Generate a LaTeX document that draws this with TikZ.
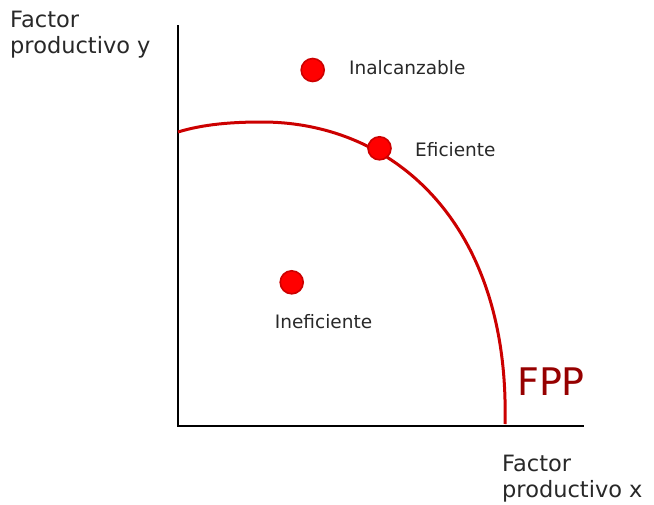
\documentclass[tikz,border=0pt]{standalone}
\usepackage{fontspec}
\setmainfont{DejaVu Sans}
\usepackage{xcolor}
\usepackage{tikz}
\usetikzlibrary{positioning}

\definecolor{fppred}{RGB}{204,0,0}
\definecolor{fppdark}{RGB}{150,0,0}
\definecolor{dotred}{RGB}{255,0,0}
\definecolor{txtgray}{RGB}{40,40,40}

\begin{document}
\begin{tikzpicture}[
  x=1pt, y=-1pt,
  axis/.style={line width=2pt, black},
  frontier/.style={line width=3pt, fppred},
  dot/.style={circle, fill=dotred, draw=fppred, line width=1.6pt, minimum size=23pt, inner sep=0pt},
  lbl/.style={inner sep=0pt, text=txtgray, font=\fontsize{18.5}{22}\selectfont},
  axislbl/.style={inner sep=0pt, text=txtgray, align=left, font=\fontsize{22.5}{26}\selectfont}
]
  \useasboundingbox (0,0) rectangle (654,504);

  % axes
  \coordinate (origin) at (178,426);
  \coordinate (ytop) at (178,25);
  \coordinate (xend) at (584,426);
  \draw[axis] (ytop) -- (origin) -- (xend);

  \node[axislbl, anchor=north west] (ylabel) at (10,11) {Factor\\productivo y};
  \node[axislbl, anchor=north west] (xlabel) at (502,455) {Factor\\productivo x};

  % frontier
  \draw[frontier] (178,132) .. controls (204,124) and (233,122) .. (262,122)
    .. controls (395,122) and (510,225) .. (505,424);
  \node[inner sep=0pt, text=fppdark, font=\fontsize{38}{40}\selectfont, anchor=base west] (fpp) at (517,395) {FPP};

  % points
  \node[dot] (inal) at (312.7,70) {};
  \node[dot] (efic) at (379.5,148.3) {};
  \node[dot] (inef) at (291.7,282.3) {};

  \node[lbl, anchor=base west] (inallbl) at (349,74.5) {Inalcanzable};
  \node[lbl, anchor=base west] (eficlbl) at (415,156) {Eficiente};
  \node[lbl, anchor=base] (ineflbl) at (323.5,328.5) {Ineficiente};
\end{tikzpicture}
\end{document}
